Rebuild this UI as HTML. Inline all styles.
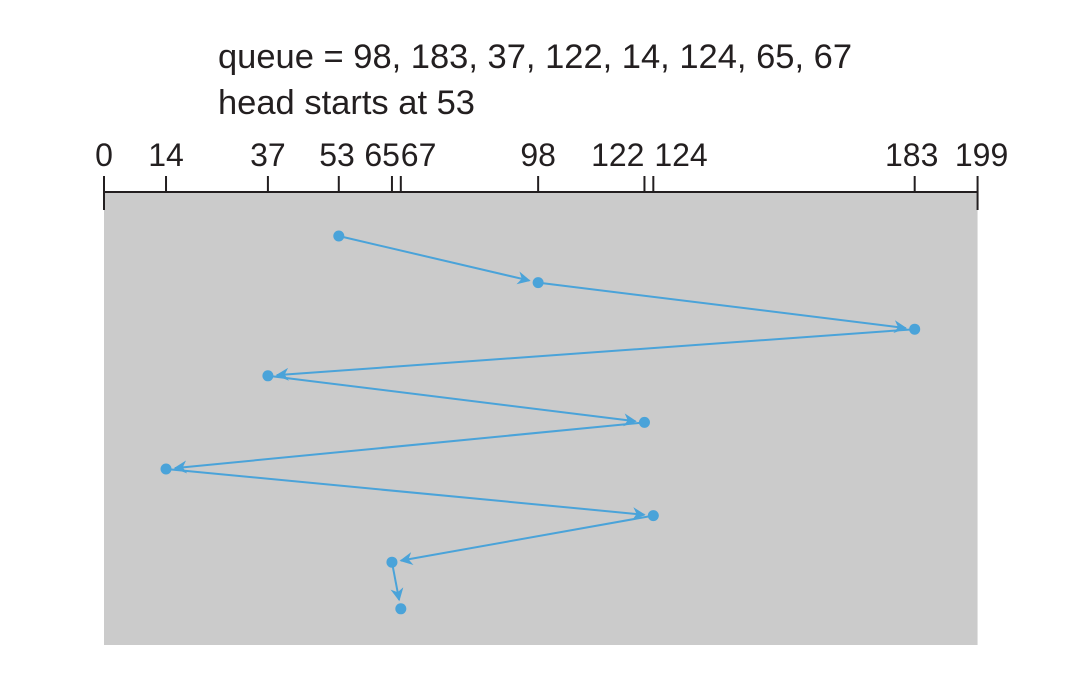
<!DOCTYPE html>
<html><head><meta charset="utf-8"><style>
html,body{margin:0;padding:0;background:#fff;}
svg{display:block;font-family:"Liberation Sans",sans-serif;}
</style></head><body>
<svg id="chart" width="1072" height="690">
<defs><marker id="ah" viewBox="0 0 10 10" refX="9" refY="5" markerWidth="13" markerHeight="13" markerUnits="userSpaceOnUse" orient="auto"><path d="M0,0 L10,5 L0,10 L3,5 Z" fill="#4aa3d9"/></marker></defs>
<text x="218" y="68" font-size="34.5" fill="#231f20">queue = 98, 183, 37, 122, 14, 124, 65, 67</text>
<text x="218" y="114" font-size="34.5" fill="#231f20">head starts at 53</text>
<g id="axis"></g><g id="marks"></g>
</svg>
<script>
const tickValues = [0, 14, 37, 53, 65, 67, 98, 122, 124, 183, 199];
const tickLabels = ["0", "14", "37", "53", "65", "67", "98", "122", "124", "183", "199"];
const visitOrder = [53, 98, 183, 37, 122, 14, 124, 65, 67];
const labelAnchor = ["middle","middle","middle","end","end","start","middle","end","start","middle","middle"];
const labelShift = [0,0,0,16,8,0,0,0,1,-3,4];
const NS = "http://www.w3.org/2000/svg";
function x(v){ return 104 + 4.43 * v; }
function y(i){ return 236 + i * 46.6; }
function mk(tag, attrs, parent){ const e=document.createElementNS(NS,tag); for(const k in attrs) e.setAttribute(k,attrs[k]); parent.appendChild(e); return e; }
const axis=document.getElementById('axis'), marks=document.getElementById('marks');
const x0=x(tickValues[0]), x1=x(tickValues[tickValues.length-1]) - 8;
const bg=mk('rect',{x:x0,y:193,width:x1-x0,height:452,fill:'#cbcbcb'},axis);


const al=mk('line',{x1:x0,x2:x1,y1:192,y2:192,stroke:'#231f20','stroke-width':2},axis);


tickValues.forEach((v,i)=>{
  const end = (i===0||i===tickValues.length-1);
  const tx = (i===tickValues.length-1) ? x1 : x(v);
  const t=mk('line',{x1:tx,x2:tx,y1:176,y2:end?210:192,stroke:'#231f20','stroke-width':2},axis);
  
  
  const lb=mk('text',{x:tx+labelShift[i],y:166,'font-size':32,'text-anchor':labelAnchor[i],fill:'#231f20'},axis);
  lb.textContent=tickLabels[i];
  
  
});
for(let i=0;i<visitOrder.length-1;i++){
  const ax=x(visitOrder[i]), ay=y(i), bx=x(visitOrder[i+1]), by=y(i+1);
  const dx=bx-ax, dy=by-ay, L=Math.hypot(dx,dy), s=(L-9)/L;
  const ln=mk('line',{x1:ax,y1:ay,x2:ax+dx*s,y2:ay+dy*s,stroke:'#4aa3d9','stroke-width':2,'marker-end':'url(#ah)'},marks);
  
  
}
visitOrder.forEach((v,i)=>{
  const c=mk('circle',{cx:x(v),cy:y(i),r:5.5,fill:'#4aa3d9'},marks);
  
  
});
</script>
</body></html>
